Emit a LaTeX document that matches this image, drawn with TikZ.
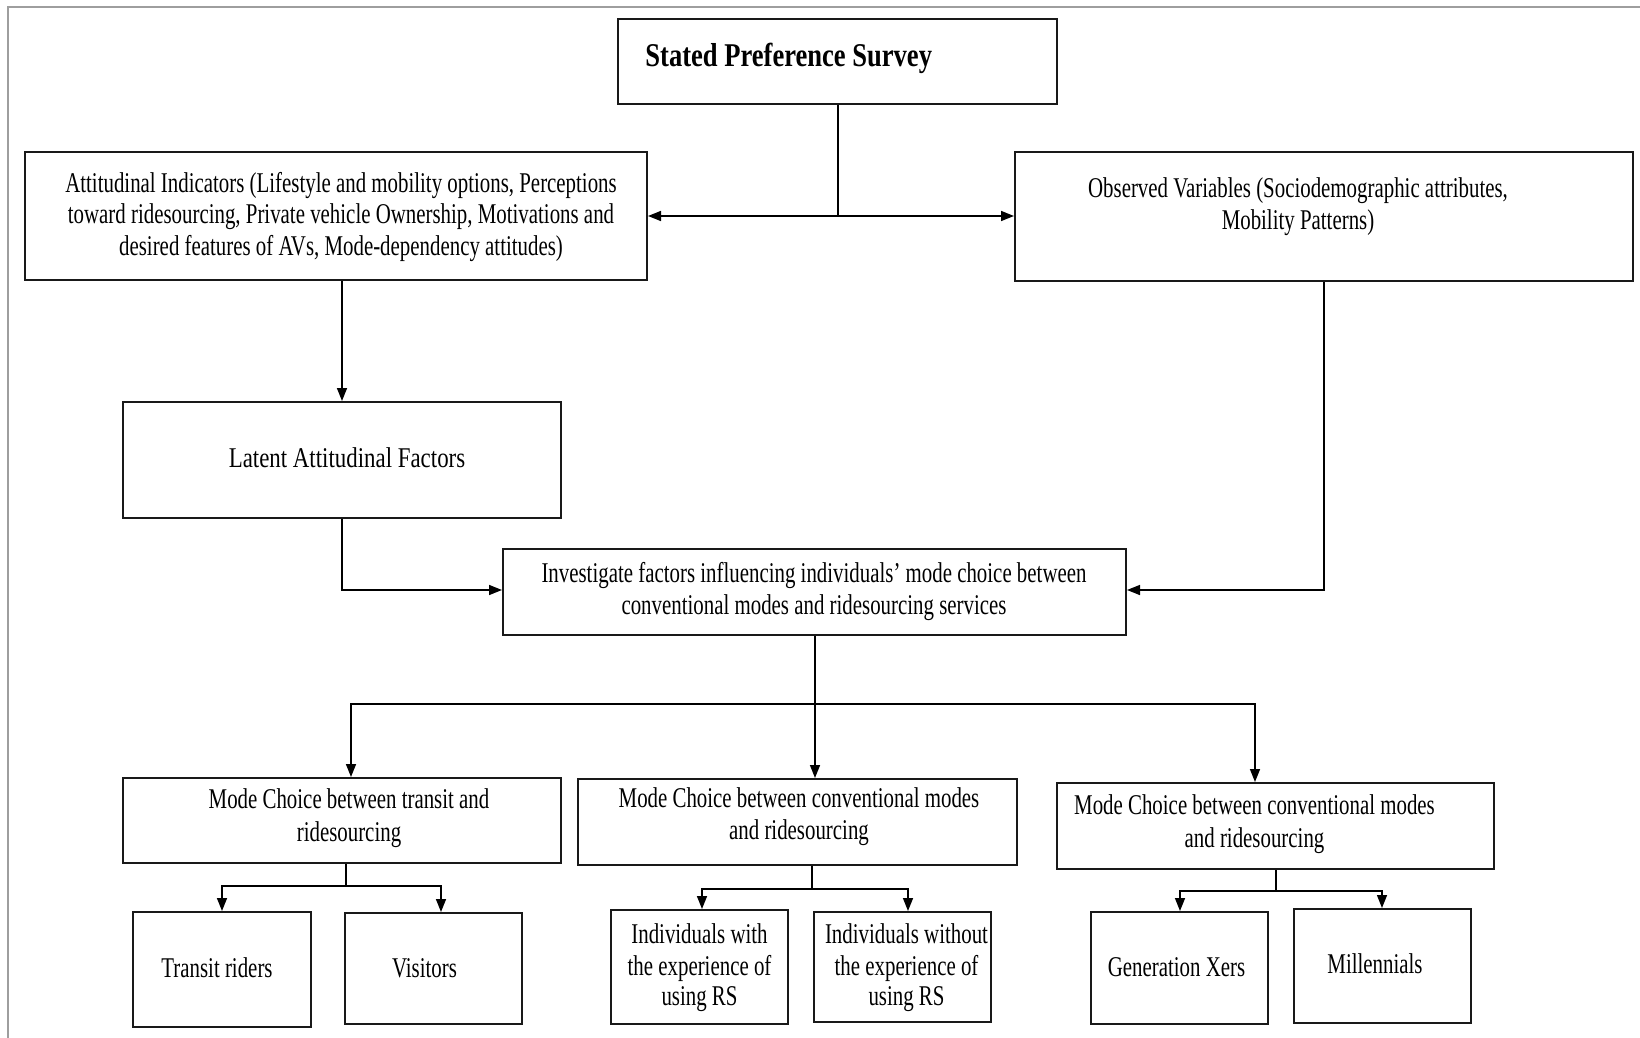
\documentclass[tikz,border=0pt]{standalone}
\usepackage{fontspec}
\setmainfont{Liberation Serif}[FakeStretch=0.73]
\newfontfamily\widefont{Liberation Serif}[FakeStretch=0.8]
\usetikzlibrary{fit,arrows.meta}
\tikzset{
  box/.style={draw=black!90, line width=1pt, inner sep=0pt},
  txt/.style={anchor=base, inner sep=0pt, font=\fontsize{14.3}{16}\selectfont},
  conn/.style={draw=black, line width=0.75pt},
  arr/.style={conn, -{Triangle[length=6.5pt,width=5pt]}},
  frameline/.style={draw=black!38, line width=1.1pt}
}
\begin{document}
\begin{tikzpicture}[x=0.5pt,y=-0.5pt]
\useasboundingbox (0,0) rectangle (1640,1038);
\draw[frameline] (8,1040) -- (8,7) -- (1642,7);

% boxes
\node[box, fit={(618,19) (1057,104)}] (sps) {};
\node[box, fit={(25,152) (647,280)}] (att) {};
\node[box, fit={(1015,152) (1633,281)}] (obs) {};
\node[box, fit={(123,402) (561,518)}] (lat) {};
\node[box, fit={(503,549) (1126,635)}] (inv) {};
\node[box, fit={(123,778) (561,863)}] (mc1) {};
\node[box, fit={(578,779) (1017,865)}] (mc2) {};
\node[box, fit={(1057,783) (1494,869)}] (mc3) {};
\node[box, fit={(133,912) (311,1027)}] (tr) {};
\node[box, fit={(345,913) (522,1024)}] (vis) {};
\node[box, fit={(611,910) (788,1024)}] (iw) {};
\node[box, fit={(814,912) (991,1022)}] (iwo) {};
\node[box, fit={(1091,912) (1268,1024)}] (gx) {};
\node[box, fit={(1294,909) (1471,1023)}] (mil) {};

% texts
\node[txt, anchor=base west, font=\widefont\bfseries\fontsize{16.6}{18}\selectfont] (sps-t) at (645,67) {Stated Preference Survey};

\node[txt] (att-t1) at (341,192) {Attitudinal Indicators (Lifestyle and mobility options, Perceptions};
\node[txt] (att-t2) at (341,224) {toward ridesourcing, Private vehicle Ownership, Motivations and};
\node[txt] (att-t3) at (341,256) {desired features of AVs, Mode-dependency attitudes)};

\node[txt] (obs-t1) at (1298,198) {Observed Variables (Sociodemographic attributes,};
\node[txt] (obs-t2) at (1298,229) {Mobility Patterns)};

\node[txt, font=\widefont\fontsize{14.3}{16}\selectfont] (lat-t) at (347,467) {Latent Attitudinal Factors};

\node[txt] (inv-t1) at (814,582) {Investigate factors influencing individuals’ mode choice between};
\node[txt] (inv-t2) at (814,614) {conventional modes and ridesourcing services};

\node[txt] (mc1-t1) at (349,808) {Mode Choice between transit and};
\node[txt] (mc1-t2) at (349,841) {ridesourcing};

\node[txt] (mc2-t1) at (799,807) {Mode Choice between conventional modes};
\node[txt] (mc2-t2) at (799,839) {and ridesourcing};

\node[txt] (mc3-t1) at (1254.5,814) {Mode Choice between conventional modes};
\node[txt] (mc3-t2) at (1254.5,847) {and ridesourcing};

\node[txt] (tr-t) at (217,977) {Transit riders};
\node[txt] (vis-t) at (424.5,977) {Visitors};

\node[txt] (iw-t1) at (699.5,943) {Individuals with};
\node[txt] (iw-t2) at (699.5,975) {the experience of};
\node[txt] (iw-t3) at (699.5,1005) {using RS};

\node[txt] (iwo-t1) at (906.5,943) {Individuals without};
\node[txt] (iwo-t2) at (906.5,975) {the experience of};
\node[txt] (iwo-t3) at (906.5,1005) {using RS};

\node[txt] (gx-t) at (1176.5,976) {Generation Xers};
\node[txt] (mil-t) at (1375,973) {Millennials};

% connectors
\coordinate (j1) at (838,216);
\draw[conn] (sps.south -| j1) -- (j1);
\draw[arr] (j1) -- (att.east |- j1);
\draw[arr] (j1) -- (obs.west |- j1);

\draw[arr] (att.south -| lat.north) -- (lat.north);
\coordinate (lj) at (342,590);
\draw[arr] (lat.south) -- (lj) -- (inv.west |- lj);
\coordinate (oj) at (1324,590);
\draw[arr] (obs.south) -- (oj) -- (inv.east |- oj);

\coordinate (j2) at (815,704);
\coordinate (b1) at (351,704);
\coordinate (b3) at (1255,704);
\draw[conn] (inv.south -| j2) -- (j2);
\draw[arr] (j2) -- (b1) -- (b1 |- mc1.north);
\draw[arr] (j2) -- (j2 |- mc2.north);
\draw[arr] (j2) -- (b3) -- (b3 |- mc3.north);

\coordinate (k1) at (346,886);
\coordinate (k1l) at (222,886);
\coordinate (k1r) at (441,886);
\draw[conn] (mc1.south -| k1) -- (k1);
\draw[arr] (k1) -- (k1l) -- (k1l |- tr.north);
\draw[arr] (k1) -- (k1r) -- (k1r |- vis.north);

\coordinate (k2) at (812,889);
\coordinate (k2l) at (702,889);
\coordinate (k2r) at (908,889);
\draw[conn] (mc2.south -| k2) -- (k2);
\draw[arr] (k2) -- (k2l) -- (k2l |- iw.north);
\draw[arr] (k2) -- (k2r) -- (k2r |- iwo.north);

\coordinate (k3) at (1276,891);
\coordinate (k3l) at (1180,891);
\coordinate (k3r) at (1382,891);
\draw[conn] (mc3.south -| k3) -- (k3);
\draw[arr] (k3) -- (k3l) -- (k3l |- gx.north);
\draw[arr] (k3) -- (k3r) -- (k3r |- mil.north);
\end{tikzpicture}
\end{document}
